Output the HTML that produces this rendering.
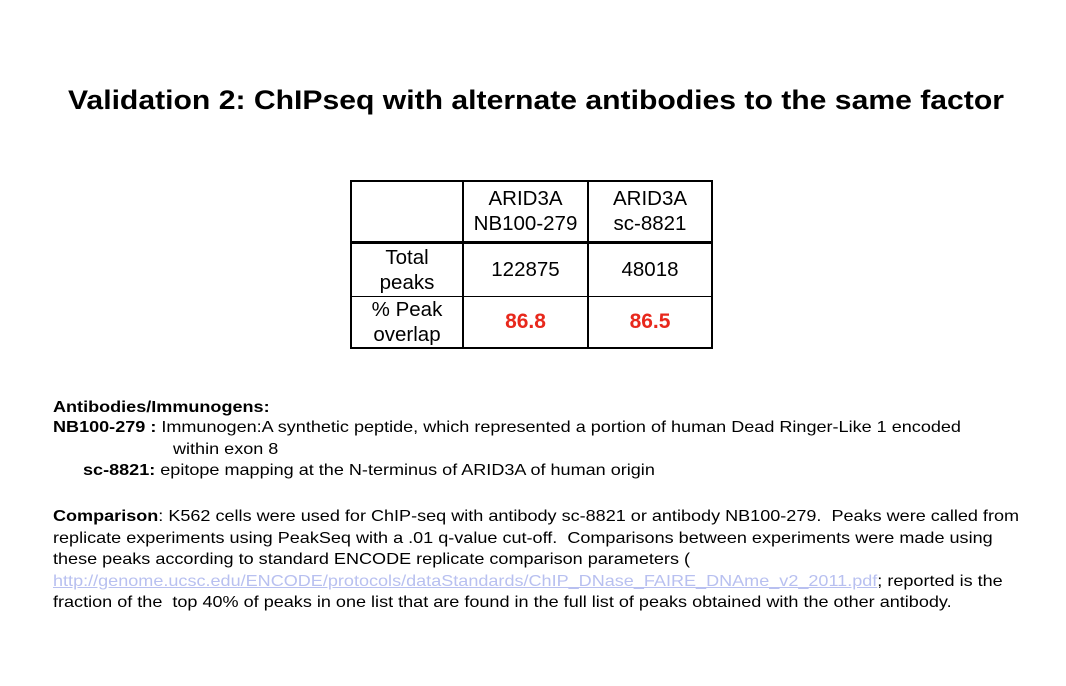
<!DOCTYPE html>
<html><head><meta charset="utf-8"><style>
body{margin:0;width:1066px;height:686px;background:#fff;position:relative;font-family:"Liberation Sans",Arial,sans-serif;overflow:hidden}
.t{position:absolute;white-space:nowrap;color:#000;font-size:16px;line-height:20px;transform:scaleX(1.128);transform-origin:0 0}
table{position:absolute;left:350px;top:180px;border-collapse:collapse;font-size:20.5px}
td{border:1px solid #000;text-align:center;padding:0;line-height:25px}
.red{color:#e8281c;font-weight:bold;font-size:21px}
a{color:#b8c0f0;text-decoration:underline}
</style></head><body>
<div class="t" style="left:68px;top:84px;font-size:27px;line-height:32px;font-weight:bold;transform:scaleX(1.116)">Validation 2: ChIPseq with alternate antibodies to the same factor</div>
<table style="border:2px solid #000">
<tr style="height:61px;border-bottom:3px solid #000"><td style="width:110px;border-right:2px solid #000"></td><td style="width:123px;border-right:2px solid #000">ARID3A<br>NB100-279</td><td style="width:122px">ARID3A<br>sc-8821</td></tr>
<tr style="height:54px"><td style="border-right:2px solid #000">Total<br>peaks</td><td style="border-right:2px solid #000">122875</td><td>48018</td></tr>
<tr style="height:51px"><td style="border-right:2px solid #000">% Peak<br>overlap</td><td class="red" style="border-right:2px solid #000">86.8</td><td class="red">86.5</td></tr>
</table>
<div class="t" style="left:53px;top:398px;font-weight:bold">Antibodies/Immunogens:</div>
<div class="t" style="left:53px;top:418px"><b>NB100-279 :</b> Immunogen:A synthetic peptide, which represented a portion of human Dead Ringer-Like 1 encoded</div>
<div class="t" style="left:173px;top:440px">within exon 8</div>
<div class="t" style="left:83px;top:461px"><b>sc-8821:</b> epitope mapping at the N-terminus of ARID3A of human origin</div>
<div class="t" style="left:53px;top:506px;line-height:21.5px"><b>Comparison</b>: K562 cells were used for ChIP-seq with antibody sc-8821 or antibody NB100-279.&nbsp; Peaks were called from<br>replicate experiments using PeakSeq with a .01 q-value cut-off.&nbsp; Comparisons between experiments were made using<br>these peaks according to standard ENCODE replicate comparison parameters (<br><a>http://genome.ucsc.edu/ENCODE/protocols/dataStandards/ChIP_DNase_FAIRE_DNAme_v2_2011.pdf</a>; reported is the<br>fraction of the&nbsp; top 40% of peaks in one list that are found in the full list of peaks obtained with the other antibody.</div>
</body></html>
